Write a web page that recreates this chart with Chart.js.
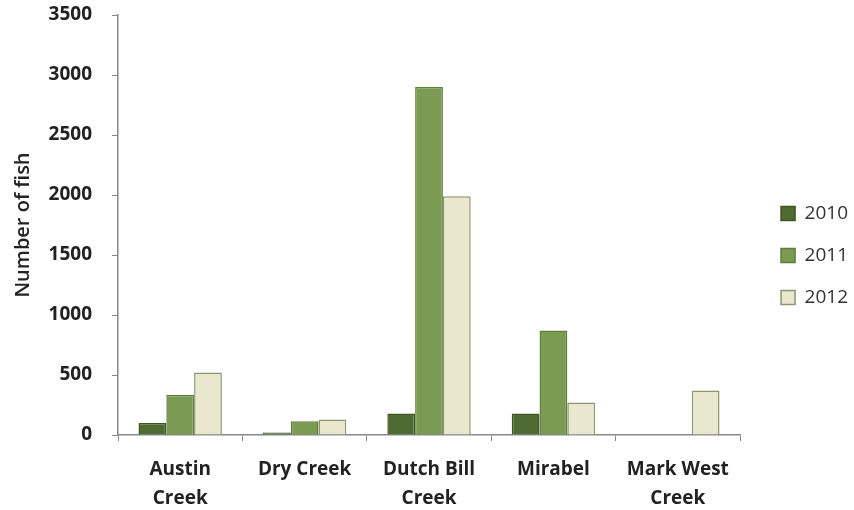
<!DOCTYPE html>
<html>
<head>
<meta charset="utf-8">
<script src="https://cdn.jsdelivr.net/npm/chart.js@4.4.0/dist/chart.umd.min.js"></script>
<style>
  html, body { margin: 0; padding: 0; background: #fff; }
  #wrap { width: 854px; height: 510px; }
</style>
</head>
<body>
<div id="wrap"><canvas id="fishChart" width="854" height="510"></canvas></div>
<script>
// creeks surveyed
const creeks = [['Austin', 'Creek'], 'Dry Creek', ['Dutch Bill', 'Creek'], 'Mirabel', ['Mark West', 'Creek']];
const years = ['2010', '2011', '2012'];

// number of fish per year
const fish2010 = [100, 20, 180, 180, 0];
const fish2011 = [335, 115, 2900, 870, 0];
const fish2012 = [520, 130, 1990, 270, 370];

const fillColors = ['#4f6b31', '#7b9b52', '#e9e8cf'];
const edgeColors = ['#3d5424', '#5f7d3c', '#8c9670'];

const font = "'Open Sans', 'Liberation Sans', sans-serif";

const datasets = [fish2010, fish2011, fish2012].map((vals, i) => ({
    label: years[i],
    data: vals,
    backgroundColor: fillColors[i],
    borderColor: edgeColors[i],
    borderWidth: 1.5,
    borderSkipped: 'bottom',
    categoryPercentage: 0.67,
    barPercentage: 1.0
}));

// nudge the legend a bit away from the plot, like the original
const legendNudge = {
    id: 'legendNudge',
    afterLayout(chart) {
        const lg = chart.legend;
        if (!lg) return;
        lg.left += 18;
        lg.right += 18;
        lg.top -= 7;
        lg.bottom -= 7;
    }
};

new Chart(document.getElementById('fishChart'), {
    type: 'bar',
    data: { labels: creeks, datasets: datasets },
    plugins: [legendNudge],
    options: {
        responsive: false,
        animation: false,
        layout: { padding: { top: 15, right: 14, bottom: 0, left: 4 } },
        plugins: {
            tooltip: { enabled: false },
            legend: {
                position: 'right',
                labels: {
                    boxWidth: 14,
                    boxHeight: 14,
                    padding: 23,
                    color: '#333',
                    font: { family: font, size: 19 }
                }
            }
        },
        scales: {
            y: {
                min: 0,
                max: 3500,
                ticks: {
                    stepSize: 500,
                    color: '#222',
                    padding: 20,
                    font: { family: font, size: 19, weight: 'bold' },
                    callback: (v) => String(v)
                },
                grid: { drawOnChartArea: false, drawTicks: true, tickLength: 6, color: '#888' },
                border: { color: '#888', width: 1.5 },
                title: {
                    display: true,
                    text: 'Number of fish',
                    color: '#222',
                    font: { family: font, size: 20, weight: '600' },
                    padding: { top: 7, bottom: 0 }
                },
                afterFit: (scale) => {
                    scale.width = 114;
                    scale.paddingTop = 0;
                    scale.paddingBottom = 0;
                }
            },
            x: {
                ticks: {
                    color: '#222',
                    padding: 14,
                    maxRotation: 0,
                    font: { family: font, size: 19, weight: 'bold', lineHeight: 1.52 }
                },
                grid: { drawOnChartArea: false, drawTicks: true, tickLength: 6, offset: true, color: '#888' },
                border: { color: '#888', width: 1.5 },
                afterFit: (scale) => {
                    scale.height = 75;
                    scale.paddingLeft = 0;
                    scale.paddingRight = 0;
                }
            }
        }
    }
});
</script>
</body>
</html>
